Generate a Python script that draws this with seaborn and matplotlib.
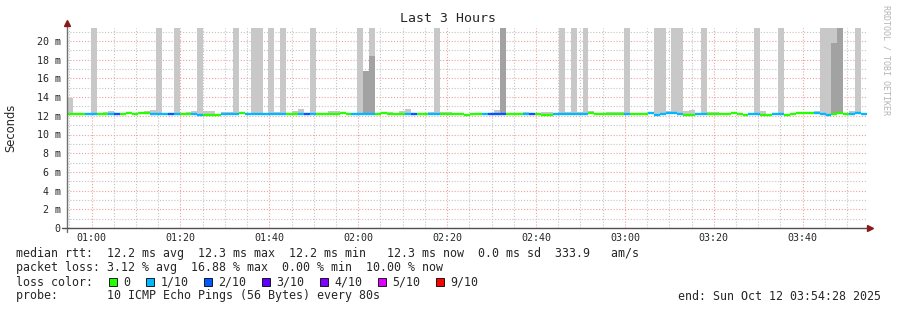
import numpy as np
import pandas as pd
import matplotlib
matplotlib.use("Agg")
import matplotlib.pyplot as plt
import seaborn as sns
from matplotlib.patches import Rectangle
from matplotlib.ticker import MultipleLocator, FixedLocator, FuncFormatter

# ---------------- data (one value per 80 s step, 00:54:28 .. 03:54:28) ----------------
START_MIN = 54 + 28 / 60          # 00:54:28 in minutes after midnight
STEP_MIN = 80 / 60                # 80 s per step
N_STEPS = 135

median_ms = [
    12.2, 12.2, 12.2, 12.2, 12.2, 12.2, 12.2, 12.2, 12.2, 12.2, 12.3, 12.2, 12.3, 12.3, 12.2,
    12.2, 12.2, 12.2, 12.2, 12.2, 12.2, 12.2, 12.1, 12.1, 12.1, 12.1, 12.2, 12.2, 12.2, 12.3,
    12.2, 12.2, 12.2, 12.2, 12.2, 12.2, 12.2, 12.2, 12.2, 12.2, 12.2, 12.2, 12.2, 12.2, 12.2,
    12.2, 12.3, 12.2, 12.2, 12.2, 12.2, 12.2, 12.2, 12.3, 12.2, 12.2, 12.2, 12.2, 12.2, 12.2,
    12.2, 12.2, 12.2, 12.2, 12.2, 12.2, 12.2, 12.1, 12.2, 12.2, 12.2, 12.2, 12.2, 12.2, 12.2,
    12.2, 12.2, 12.2, 12.2, 12.2, 12.1, 12.1, 12.2, 12.2, 12.2, 12.2, 12.2, 12.2, 12.3, 12.2,
    12.2, 12.2, 12.2, 12.2, 12.2, 12.2, 12.2, 12.2, 12.3, 12.1, 12.2, 12.3, 12.3, 12.2, 12.1,
    12.1, 12.2, 12.2, 12.2, 12.2, 12.2, 12.2, 12.3, 12.2, 12.1, 12.2, 12.2, 12.1, 12.1, 12.2,
    12.2, 12.1, 12.2, 12.3, 12.3, 12.3, 12.3, 12.2, 12.1, 12.2, 12.3, 12.2, 12.2, 12.3, 12.2,
]

loss_pings = [
    0, 0, 0, 1, 1, 0, 0, 1, 2, 0, 0, 0, 0, 0, 1,
    1, 1, 2, 1, 0, 0, 1, 1, 0, 0, 0, 1, 1, 1, 0,
    1, 1, 1, 1, 1, 1, 1, 0, 0, 1, 2, 1, 0, 0, 0,
    0, 0, 0, 1, 1, 1, 1, 0, 0, 0, 0, 0, 1, 2, 0,
    0, 1, 1, 0, 0, 0, 0, 0, 0, 0, 1, 2, 2, 2, 0,
    0, 0, 1, 2, 0, 0, 0, 1, 1, 1, 1, 1, 1, 0, 0,
    0, 0, 0, 0, 1, 0, 0, 0, 1, 1, 1, 1, 1, 1, 0,
    0, 1, 1, 0, 0, 0, 0, 0, 0, 0, 1, 1, 0, 0, 1,
    1, 0, 0, 0, 0, 0, 1, 1, 1, 0, 0, 0, 1, 1, 1,
]

# light smoke: top of the highest ping per step (ms); steps above the scale are clipped
smoke_light_ms = {
    0: 13.9, 4: 25, 6: 12.4, 7: 12.5, 12: 12.4, 13: 12.5, 14: 12.6, 15: 25, 18: 25,
    20: 12.4, 21: 12.5, 22: 25, 23: 12.5, 24: 12.5, 26: 12.4, 27: 12.4, 28: 25, 31: 25,
    32: 25, 34: 25, 35: 12.4, 36: 25, 38: 12.5, 39: 12.7, 41: 25, 44: 12.5, 45: 12.5,
    49: 25, 51: 25, 54: 12.4, 56: 12.5, 57: 12.7, 61: 12.4, 62: 25, 63: 12.4, 64: 12.4,
    72: 12.6, 77: 12.4, 80: 12.4, 81: 12.4, 83: 25, 84: 12.4, 85: 25, 86: 12.4, 87: 25,
    88: 12.5, 91: 12.4, 92: 12.4, 93: 12.4, 94: 25, 99: 25, 100: 25, 101: 12.5, 102: 25,
    103: 25, 104: 12.5, 105: 12.6, 107: 25, 108: 12.4, 109: 12.4, 116: 25, 117: 12.5,
    120: 25, 126: 12.5, 127: 25, 128: 25, 129: 25, 132: 12.5, 133: 25,
}
# dark smoke: several pings high in the same step
smoke_dark_ms = {50: 16.8, 51: 18.4, 73: 25, 129: 19.8, 130: 25}
SMOKE_BASE_MS = 12.15

loss_labels = ["0", "1/10", "2/10", "3/10", "4/10", "5/10", "9/10"]
loss_colors = ["#26ff00", "#00b8ff", "#0059ff", "#5e00ff", "#7e00ff", "#dd00ff", "#ff0000"]
loss_square_x = [108.5, 145.5, 203.5, 261.5, 319.5, 377.5, 435.5]

x_tick_minutes = [60, 80, 100, 120, 140, 160, 180, 200, 220]
x_tick_labels = ["01:00", "01:20", "01:40", "02:00", "02:20", "02:40", "03:00", "03:20", "03:40"]

title = "Last 3 Hours"
line_median = "median rtt:  12.2 ms avg  12.3 ms max  12.2 ms min   12.3 ms now  0.0 ms sd  333.9   am/s"
line_loss = "packet loss: 3.12 % avg  16.88 % max  0.00 % min  10.00 % now"
line_probe = "probe:       10 ICMP Echo Pings (56 Bytes) every 80s"
line_end = "end: Sun Oct 12 03:54:28 2025"

# ---------------- figure ----------------
sns.set_style("white")
plt.rcParams['font.family'] = ['DejaVu Sans Mono', 'DejaVu Sans']

W, H = 897, 310
fig = plt.figure(figsize=(W / 100, H / 100), dpi=100)
fig.patch.set_facecolor("white")
ax = fig.add_axes([67 / W, (H - 228) / H, 800 / W, 200 / H])
YMAX = 200 / 9.35

step_left = [START_MIN + k * STEP_MIN for k in range(N_STEPS)]

# smoke bars
lk = sorted(smoke_light_ms)
ax.bar([step_left[k] for k in lk], [smoke_light_ms[k] - SMOKE_BASE_MS for k in lk],
       bottom=SMOKE_BASE_MS, width=STEP_MIN, align="edge", color="#c8c8c8", linewidth=0, zorder=2)
dk = sorted(smoke_dark_ms)
ax.bar([step_left[k] for k in dk], [smoke_dark_ms[k] - SMOKE_BASE_MS for k in dk],
       bottom=SMOKE_BASE_MS, width=STEP_MIN, align="edge", color="#a2a2a2", linewidth=0, zorder=3)

# median line coloured by loss
rows = []
for k in range(N_STEPS):
    lab = loss_labels[loss_pings[k]] if loss_pings[k] < 6 else "9/10"
    for xx in (step_left[k], step_left[k] + STEP_MIN):
        rows.append({"t": xx, "ms": median_ms[k], "step": k, "loss": lab})
df = pd.DataFrame(rows)
palette = dict(zip(loss_labels, loss_colors))
sns.lineplot(data=df, x="t", y="ms", hue="loss", units="step", estimator=None,
             palette=palette, legend=False, linewidth=1.7, ax=ax, zorder=5,
             solid_capstyle="butt")

ax.set_xlim(START_MIN, START_MIN + N_STEPS * STEP_MIN)
ax.set_ylim(0, YMAX)
ax.set_xlabel("")
ax.set_ylabel("")

ax.xaxis.set_major_locator(FixedLocator(x_tick_minutes))
ax.xaxis.set_minor_locator(MultipleLocator(5))
ax.set_xticklabels(x_tick_labels)
ax.yaxis.set_major_locator(MultipleLocator(2))
ax.yaxis.set_minor_locator(MultipleLocator(1))
ax.yaxis.set_major_formatter(FuncFormatter(lambda v, p: "0" if v == 0 else f"{int(round(v))} m"))
ax.tick_params(axis="both", which="both", length=0, labelsize=7.2)
ax.tick_params(axis="y", pad=4.5)
ax.tick_params(axis="x", pad=3.5)

ax.grid(which="major", color="#f2a0a0", linestyle=(0, (1, 1.6)), linewidth=0.8)
ax.grid(which="minor", color="#c4c4c4", linestyle=(0, (1, 1.6)), linewidth=0.8)
ax.set_axisbelow(True)
for s in ax.spines.values():
    s.set_visible(False)

# axes with arrows
ax.plot([0, 0], [-4 / 200, 1.02], transform=ax.transAxes, color="#707070", lw=1.0, clip_on=False, zorder=6)
ax.plot([-5 / 800, 1.0], [0, 0], transform=ax.transAxes, color="#505050", lw=1.0, clip_on=False, zorder=6)
ax.plot([0], [1 + 5 / 200], marker="^", markersize=5, color="#8b1a1a", transform=ax.transAxes, clip_on=False, zorder=7)
ax.plot([1 + 3 / 800], [0], marker=">", markersize=5, color="#8b1a1a", transform=ax.transAxes, clip_on=False, zorder=7)

# texts
def fy(py):
    return 1 - py / H

fig.text(448 / W, fy(19), title, ha="center", va="center", fontsize=9.5)
fig.text(11 / W, fy(128), "Seconds", rotation=90, ha="center", va="center", fontsize=8.3,
         family=["DejaVu Sans"])
fig.text(886 / W, fy(60), "RRDTOOL / TOBI OETIKER", rotation=270, ha="center", va="center",
         fontsize=6, color="#b4b4b4")

fs = 8.35
fig.text(16 / W, fy(254), line_median, ha="left", va="center", fontsize=fs)
fig.text(16 / W, fy(268), line_loss, ha="left", va="center", fontsize=fs)
fig.text(16 / W, fy(282), "loss color:", ha="left", va="center", fontsize=fs)
for sx, lab, col in zip(loss_square_x, loss_labels, loss_colors):
    fig.patches.append(Rectangle((sx / W, fy(286)), 8 / W, 8 / H, transform=fig.transFigure,
                                 facecolor=col, edgecolor="black", linewidth=0.6))
    fig.text((sx + 14.8) / W, fy(282), lab, ha="left", va="center", fontsize=fs)
fig.text(16 / W, fy(296), line_probe, ha="left", va="center", fontsize=fs)
fig.text(881 / W, fy(296), line_end, ha="right", va="center", fontsize=fs)

fig.savefig("out.png", dpi=100, facecolor="white")
